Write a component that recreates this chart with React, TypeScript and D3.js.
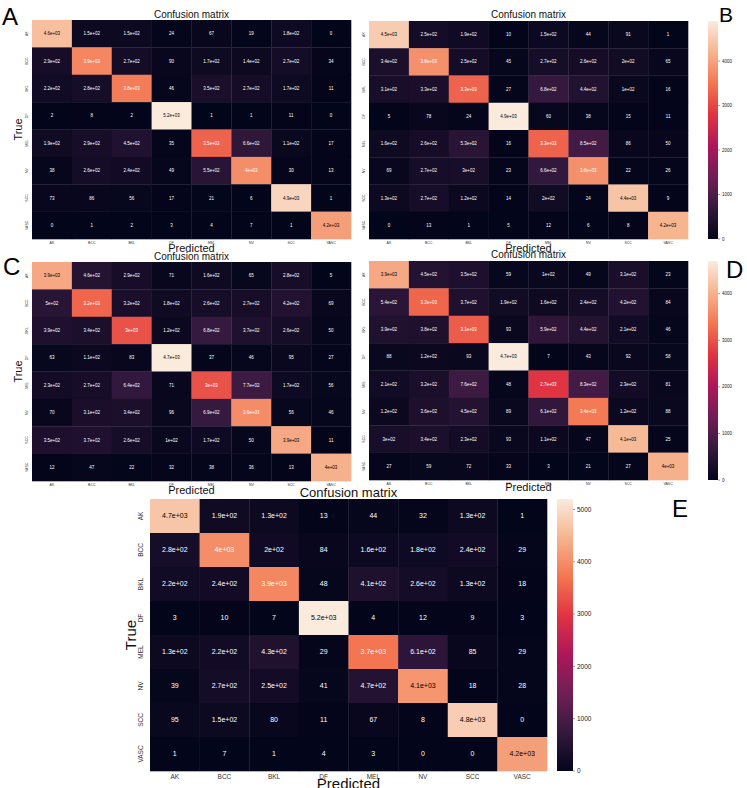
import React from "react";
import * as d3 from "d3";

const classes = ["AK", "BCC", "BKL", "DF", "MEL", "NV", "SCC", "VASC"];

const matrixA = [
  [4600, 150, 150, 24, 67, 19, 180, 0],
  [290, 3900, 270, 90, 170, 140, 270, 34],
  [220, 280, 3800, 46, 350, 270, 170, 11],
  [2, 8, 2, 5200, 1, 1, 11, 0],
  [190, 290, 450, 35, 3500, 660, 110, 17],
  [38, 260, 240, 49, 550, 4000, 30, 13],
  [73, 86, 56, 17, 21, 6, 4900, 1],
  [0, 1, 2, 3, 4, 7, 1, 4200],
];
const matrixB = [
  [4500, 250, 190, 10, 150, 44, 91, 1],
  [340, 3800, 250, 45, 270, 260, 200, 65],
  [310, 330, 3300, 27, 680, 440, 100, 16],
  [5, 78, 24, 4900, 60, 38, 15, 11],
  [160, 260, 530, 16, 3300, 850, 86, 50],
  [69, 270, 300, 23, 660, 3800, 22, 26],
  [130, 270, 120, 14, 200, 24, 4400, 9],
  [0, 13, 1, 5, 12, 6, 8, 4200],
];
const matrixC = [
  [3900, 460, 290, 71, 160, 65, 280, 5],
  [500, 3200, 320, 180, 260, 270, 420, 69],
  [390, 340, 3000, 120, 680, 370, 260, 50],
  [63, 110, 83, 4700, 37, 46, 95, 27],
  [230, 270, 640, 71, 3000, 770, 170, 56],
  [70, 310, 340, 96, 690, 3600, 56, 46],
  [350, 370, 260, 100, 170, 50, 3900, 11],
  [12, 47, 22, 32, 38, 36, 13, 4000],
];
const matrixD = [
  [3900, 450, 350, 59, 100, 49, 310, 23],
  [540, 3200, 370, 190, 160, 240, 420, 84],
  [390, 380, 3100, 93, 590, 440, 210, 46],
  [88, 120, 93, 4700, 7, 43, 92, 58],
  [210, 320, 760, 48, 2700, 830, 230, 81],
  [120, 360, 450, 89, 610, 3400, 120, 88],
  [300, 340, 230, 93, 110, 47, 4100, 25],
  [27, 59, 72, 33, 3, 21, 27, 4000],
];
const matrixE = [
  [4700, 190, 130, 13, 44, 32, 130, 1],
  [280, 4000, 200, 84, 160, 180, 240, 29],
  [220, 240, 3900, 48, 410, 260, 130, 18],
  [3, 10, 7, 5200, 4, 12, 9, 3],
  [130, 220, 430, 29, 3700, 610, 85, 29],
  [39, 270, 250, 41, 470, 4100, 18, 28],
  [95, 150, 80, 11, 67, 8, 4800, 0],
  [1, 7, 1, 4, 3, 0, 0, 4200],
];

const cbarTicks = [0, 1000, 2000, 3000, 4000, 5000];

// seaborn "rocket"
const rocketStops = ["#03051a", "#35193e", "#701f57", "#ad1759", "#e13342", "#f37651", "#f6b48f", "#faebdd"];
const rocket = d3
  .scaleLinear<string>()
  .domain(rocketStops.map((_, i) => i / (rocketStops.length - 1)))
  .range(rocketStops)
  .interpolate(d3.interpolateRgb);

const font = "'Liberation Sans', Arial, sans-serif";

// like python's {:.2g}
function fmt(v: number) {
  if (v < 100) return String(v);
  let e = Math.floor(Math.log10(v));
  let m = Math.round((v / Math.pow(10, e)) * 10) / 10;
  if (m >= 10) { m = 1; e++; }
  const ms = Number.isInteger(m) ? String(m) : m.toFixed(1);
  return `${ms}e+${String(e).padStart(2, "0")}`;
}

function textColor(c: string) {
  const rgb = d3.rgb(c);
  const lin = (x: number) => {
    x /= 255;
    return x <= 0.03928 ? x / 12.92 : Math.pow((x + 0.055) / 1.055, 2.4);
  };
  const lum = 0.2126 * lin(rgb.r) + 0.7152 * lin(rgb.g) + 0.0722 * lin(rgb.b);
  return lum > 0.408 ? "#000" : "#fff";
}

function Panel({ id, data, x0, x1, y0, y1, annot, tick, titleSize, titleY, predY, trueX, labelSize, letter, cbar }: any) {
  const xs = d3.scaleBand().domain(classes).range([x0, x1]);
  const ys = d3.scaleBand().domain(classes).range([y0, y1]);
  const flat = data.flat();
  const vmin = d3.min(flat) as number;
  const vmax = d3.max(flat) as number;
  const col = d3.scaleLinear().domain([vmin, vmax]).range([0, 1]);
  const cx = (x0 + x1) / 2;
  const cy = (y0 + y1) / 2;

  let bar = null;
  if (cbar) {
    const cs = d3.scaleLinear().domain([vmin, vmax]).range([y1, y0]);
    bar = (
      <g>
        <defs>
          <linearGradient id={"g" + id} x1="0" y1="1" x2="0" y2="0">
            {rocketStops.map((s, i) => (
              <stop key={i} offset={i / (rocketStops.length - 1)} stopColor={s} />
            ))}
          </linearGradient>
        </defs>
        <rect x={cbar.x} y={y0} width={cbar.w} height={y1 - y0} fill={`url(#g${id})`} />
        {cbarTicks.filter((t) => t <= vmax).map((t) => (
          <g key={t}>
            <line x1={cbar.x + cbar.w} x2={cbar.x + cbar.w + 2} y1={cs(t)} y2={cs(t)} stroke="#444" strokeWidth={0.5} />
            <text x={cbar.x + cbar.w + 4} y={cs(t)} dy="0.35em" fontSize={cbar.font} fill="#222">{t}</text>
          </g>
        ))}
      </g>
    );
  }

  return (
    <g fontFamily={font}>
      {data.map((row: number[], i: number) =>
        row.map((v, j) => {
          const c = rocket(col(v));
          return (
            <g key={i + "-" + j}>
              <rect x={xs(classes[j])} y={ys(classes[i])} width={xs.bandwidth() + 0.3} height={ys.bandwidth() + 0.3} fill={c} />
              <text
                x={(xs(classes[j]) as number) + xs.bandwidth() / 2}
                y={(ys(classes[i]) as number) + ys.bandwidth() / 2}
                dy="0.35em"
                textAnchor="middle"
                fontSize={annot}
                fill={textColor(c)}
              >
                {fmt(v)}
              </text>
            </g>
          );
        })
      )}
      {classes.map((c) => (
        <g key={c}>
          <text x={(xs(c) as number) + xs.bandwidth() / 2} y={y1 + tick + 1.5} textAnchor="middle" fontSize={tick} fill="#333">{c}</text>
          <text
            transform={`translate(${x0 - tick - 1},${(ys(c) as number) + ys.bandwidth() / 2}) rotate(-90)`}
            textAnchor="middle"
            fontSize={tick}
            fill="#333"
          >
            {c}
          </text>
        </g>
      ))}
      <text x={cx} y={titleY} textAnchor="middle" fontSize={titleSize} fill="#111">Confusion matrix</text>
      <text x={cx} y={predY} textAnchor="middle" fontSize={labelSize} fill="#111">Predicted</text>
      {trueX != null && (
        <text transform={`translate(${trueX},${cy}) rotate(-90)`} textAnchor="middle" fontSize={labelSize} fill="#111">True</text>
      )}
      {bar}
      <text x={letter.x} y={letter.y} fontSize={letter.size} fill="#000">{letter.t}</text>
    </g>
  );
}

export default function App() {
  return (
    <svg width={747} height={788} style={{ position: "absolute", left: 0, top: 0, background: "#fff" }}>
      <rect width={747} height={788} fill="#fff" />
      <Panel id="A" data={matrixA} x0={32} x1={351} y0={20} y1={239} annot={4.5} tick={3.5}
        titleSize={10} titleY={18} predY={252} trueX={22} labelSize={11}
        letter={{ t: "A", x: 2, y: 25, size: 24 }} />
      <Panel id="B" data={matrixB} x0={369} x1={688} y0={21} y1={239} annot={4.5} tick={3.5}
        titleSize={10} titleY={18} predY={252} trueX={null} labelSize={11}
        letter={{ t: "B", x: 719, y: 22, size: 21 }} cbar={{ x: 708, w: 10, font: 4.5 }} />
      <Panel id="C" data={matrixC} x0={32} x1={351} y0={262} y1={481} annot={4.5} tick={3.5}
        titleSize={10} titleY={260} predY={494} trueX={22} labelSize={11}
        letter={{ t: "C", x: 3, y: 275, size: 24 }} />
      <Panel id="D" data={matrixD} x0={369} x1={688} y0={261} y1={480} annot={4.5} tick={3.5}
        titleSize={10} titleY={258} predY={491} trueX={null} labelSize={11}
        letter={{ t: "D", x: 726, y: 278, size: 24 }} cbar={{ x: 708, w: 10, font: 4.5 }} />
      <Panel id="E" data={matrixE} x0={150} x1={547} y0={499} y1={771} annot={7} tick={6.5}
        titleSize={13} titleY={497} predY={789} trueX={136} labelSize={15}
        letter={{ t: "E", x: 672, y: 517, size: 24 }} cbar={{ x: 557, w: 16, font: 6.5 }} />
    </svg>
  );
}
